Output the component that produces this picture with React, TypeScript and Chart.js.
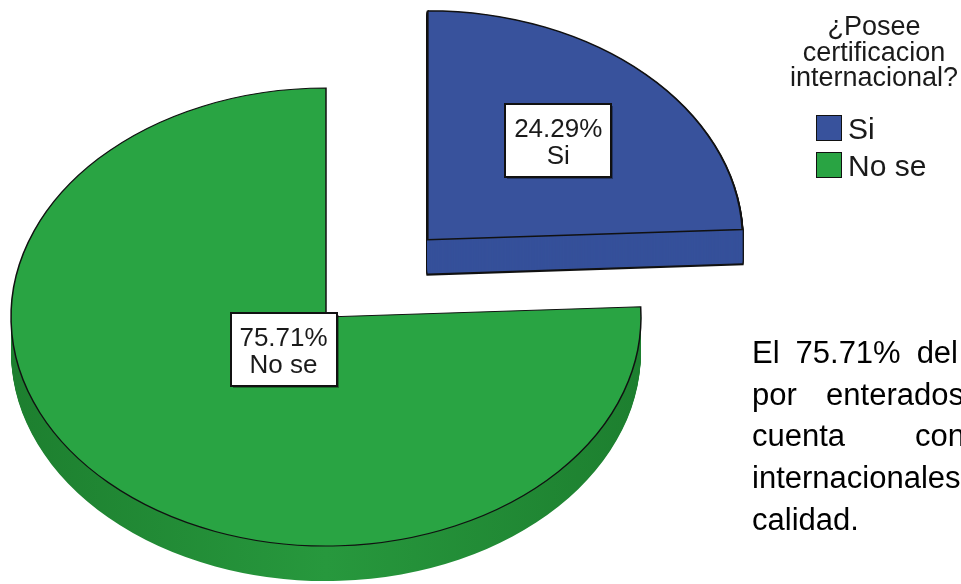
import React, { useEffect, useRef } from 'react';
import { Chart, registerables } from 'chart.js';

Chart.register(...registerables);

// ---- data ----
const categories = ['Si', 'No se'];
const percentages = [24.29, 75.71];
const legendTitleLines = ['¿Posee', 'certificacion', 'internacional?'];
const paragraphLines = ['El 75.71% del', 'por enterados', 'cuenta con', 'internacionales', 'calidad.'];

// ---- style ----
const topColors = ['#38529c', '#29a443'];
const blueSide = '#35509a';
const explode = [588, 0];
const labelFrac = [0.6, 0.195];
const RADIUS = 315;
const SQUASH = 0.727;
const DEPTH = 35;
const FONT = '"Liberation Sans", Arial, sans-serif';

function squash(ctx: CanvasRenderingContext2D, cx: number, cy: number) {
  ctx.translate(cx, cy);
  ctx.scale(1, SQUASH);
  ctx.translate(-cx, -cy);
}

function drawLabelBox(ctx: CanvasRenderingContext2D, x: number, y: number, lines: string[]) {
  const w = 106;
  const h = 73;
  const l = Math.round(x - w / 2);
  const t = Math.round(y - h / 2);
  ctx.save();
  ctx.fillStyle = 'rgba(0,0,0,0.35)';
  ctx.fillRect(l + 2, t + 2, w, h);
  ctx.fillStyle = '#ffffff';
  ctx.fillRect(l, t, w, h);
  ctx.strokeStyle = '#111111';
  ctx.lineWidth = 2;
  ctx.strokeRect(l, t, w, h);
  ctx.fillStyle = '#1a1a1a';
  ctx.font = `26px ${FONT}`;
  ctx.textAlign = 'center';
  ctx.textBaseline = 'alphabetic';
  ctx.fillText(lines[0], x, y - 3.5);
  ctx.fillText(lines[1], x, y + 23.5);
  ctx.restore();
}

function center(chart: any) {
  const a = chart.chartArea;
  return { cx: (a.left + a.right) / 2, cy: (a.top + a.bottom) / 2 };
}

function drawShifted(ctx: CanvasRenderingContext2D, arc: any, opts: any, k: number, cx: number, cy: number) {
  const saved = arc.options;
  arc.options = opts;
  ctx.save();
  ctx.translate(0, k);
  squash(ctx, cx, cy);
  arc.draw(ctx);
  ctx.restore();
  arc.options = saved;
}

const pie3d = {
  id: 'pie3d',
  beforeDatasetsDraw(chart: any) {
    const ctx: CanvasRenderingContext2D = chart.ctx;
    const arcs = chart.getDatasetMeta(0).data;
    const { cx, cy } = center(chart);
    const grad = ctx.createLinearGradient(cx - RADIUS, 0, cx + RADIUS, 0);
    grad.addColorStop(0, '#1d7f2f');
    grad.addColorStop(0.5, '#27983d');
    grad.addColorStop(1, '#1d7f2f');
    arcs.forEach((arc: any, i: number) => {
      const base = arc.options;
      if (i === 0) {
        // outlined extrusion of the exploded slice
        for (let k = DEPTH; k >= 1; k--) {
          drawShifted(ctx, arc, { ...base, backgroundColor: blueSide, borderWidth: 2.4, borderColor: '#111111' }, k, cx, cy);
        }
        for (let s = DEPTH - 1.2; s > 0; s -= 1) {
          drawShifted(ctx, arc, { ...base, backgroundColor: blueSide, borderWidth: 0 }, s, cx, cy);
        }
      } else {
        for (let k = DEPTH; k >= 1; k--) {
          drawShifted(ctx, arc, { ...base, backgroundColor: grad, borderWidth: 0 }, k, cx, cy);
        }
      }
    });
    ctx.save();
    squash(ctx, cx, cy);
  },
  afterDatasetsDraw(chart: any) {
    const ctx: CanvasRenderingContext2D = chart.ctx;
    ctx.restore();
    const arcs = chart.getDatasetMeta(0).data;
    const { cx, cy } = center(chart);
    arcs.forEach((arc: any, i: number) => {
      const h = (arc.startAngle + arc.endAngle) / 2;
      const off = (arc.options.offset || 0) / 4;
      const d = off + RADIUS * labelFrac[i];
      const px = cx + Math.cos(h) * d;
      const pyc = cy + Math.sin(h) * d;
      const py = cy + (pyc - cy) * SQUASH;
      if (isFinite(px) && isFinite(py)) {
        drawLabelBox(ctx, px, py, [`${percentages[i].toFixed(2)}%`, categories[i]]);
      }
    });
  },
};

export default function App() {
  const ref = useRef<HTMLCanvasElement>(null);
  useEffect(() => {
    const canvas = ref.current!;
    let chart: Chart | null = null;
    try {
      chart = new Chart(canvas, {
        type: 'pie',
        data: {
          labels: categories,
          datasets: [
            {
              data: percentages,
              backgroundColor: topColors,
              borderColor: '#111111',
              borderWidth: [2, 1.5],
              borderJoinStyle: 'miter',
              offset: explode,
              hoverOffset: 0,
              radius: RADIUS,
              clip: false,
            } as any,
          ],
        },
        options: {
          responsive: false,
          animation: false,
          events: [],
          radius: RADIUS,
          cutout: '0%',
          layout: { padding: { left: 0, right: 309, top: 50, bottom: 0 } },
          plugins: { legend: { display: false }, tooltip: { enabled: false } },
        } as any,
        plugins: [pie3d],
      });
    } catch (e) {
      console.error(e);
    }
    return () => {
      if (chart) chart.destroy();
    };
  }, []);

  const textColor = '#1a1a1a';
  const lineTops = [336.75, 378.55, 420.35, 462.15, 503.95];
  const lineWidths = [206, 212, 213, 0, 0];

  return (
    <div
      style={{
        position: 'fixed',
        left: 0,
        top: 0,
        width: 961,
        height: 584,
        overflow: 'hidden',
        background: '#ffffff',
        fontFamily: FONT,
      }}
    >
      <canvas ref={ref} width={961} height={584} style={{ display: 'block', position: 'absolute', left: 0, top: 0 }} />
      <div
        style={{
          position: 'absolute',
          left: 774,
          top: 14,
          width: 200,
          textAlign: 'center',
          fontSize: 27,
          lineHeight: '25.5px',
          color: textColor,
          whiteSpace: 'nowrap',
        }}
      >
        {legendTitleLines.map((t, i) => (
          <div key={i}>{t}</div>
        ))}
      </div>
      {categories.map((c, i) => (
        <div key={c}>
          <div
            style={{
              position: 'absolute',
              left: 816,
              top: 115 + i * 37,
              width: 26,
              height: 26,
              boxSizing: 'border-box',
              background: topColors[i],
              border: '1.5px solid #111',
            }}
          />
          <div
            style={{
              position: 'absolute',
              left: 848,
              top: 113.6 + i * 37,
              fontSize: 30,
              lineHeight: '30px',
              color: textColor,
              whiteSpace: 'nowrap',
            }}
          >
            {c}
          </div>
        </div>
      ))}
      {paragraphLines.map((line, i) => (
        <div
          key={i}
          style={{
            position: 'absolute',
            left: 752,
            top: lineTops[i],
            fontSize: 31,
            lineHeight: '31px',
            color: '#000',
            whiteSpace: 'nowrap',
            display: 'flex',
            justifyContent: lineWidths[i] ? 'space-between' : 'flex-start',
            width: lineWidths[i] || undefined,
          }}
        >
          {line.split(' ').map((w, j) => (
            <span key={j}>{w}</span>
          ))}
        </div>
      ))}
    </div>
  );
}
